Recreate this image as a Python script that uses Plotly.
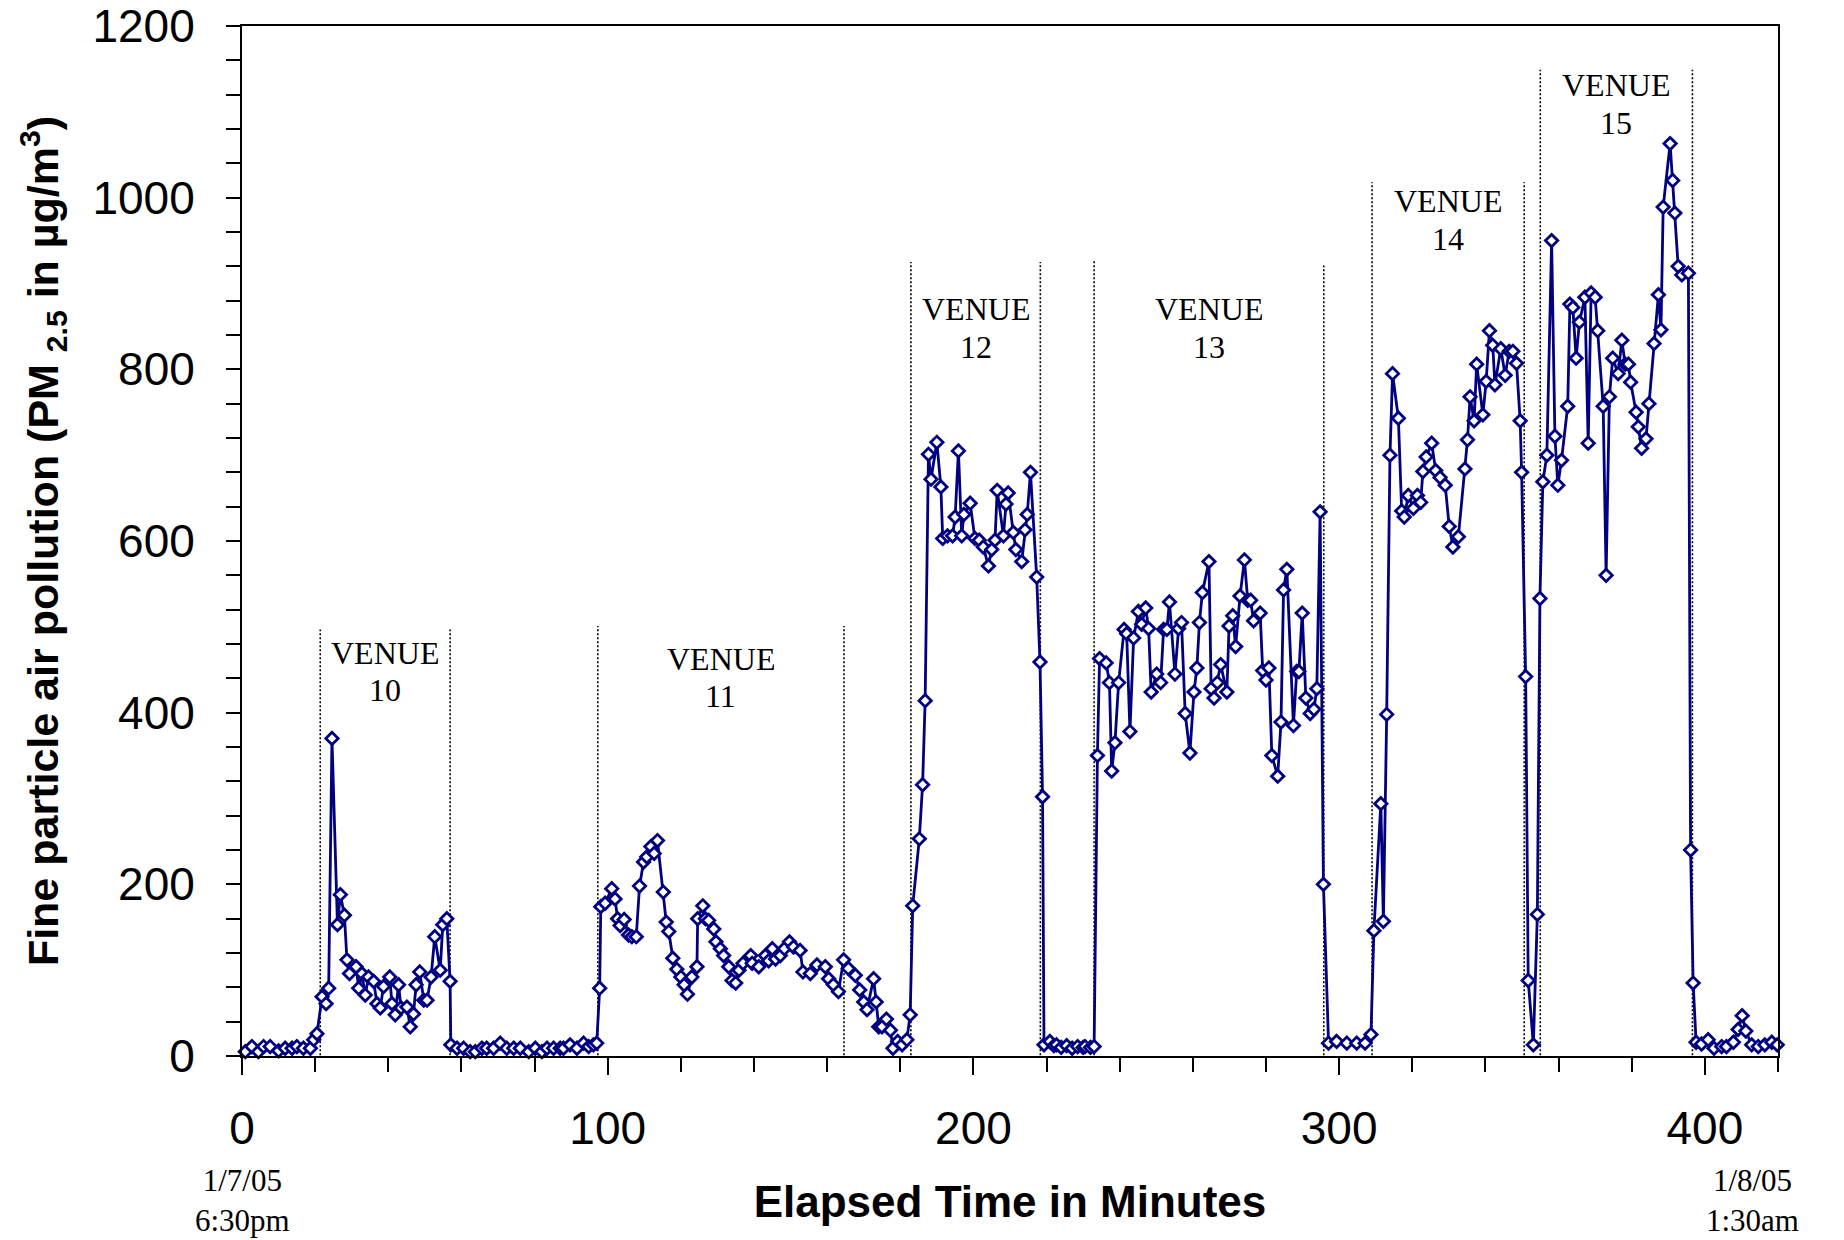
import plotly.graph_objects as go

# Elapsed time (minutes) and PM2.5 readings (ug/m3)
TIME_MIN = [
    0.9, 2.7, 4.5, 5.9, 7.7, 10.0, 11.8, 13.7, 15.0, 16.8, 18.7, 19.6, 20.5, 21.9, 23.0, 23.7,
    24.6, 26.1, 26.9, 28.0, 28.7, 29.4, 31.2, 31.9, 32.8, 33.7, 34.6, 36.0, 36.9, 37.8, 38.7,
    40.4, 41.0, 41.9, 42.8, 43.5, 45.1, 46.0, 46.9, 47.6, 48.6, 49.7, 50.6, 51.7, 52.7, 54.2,
    54.9, 56.0, 56.9, 57.1,
    58.8, 60.6, 62.4, 63.8, 65.6, 66.9, 68.8, 70.6, 72.4, 74.3, 76.1, 78.4, 80.2, 82.0, 83.4,
    85.2, 87.0, 87.9, 89.7, 91.6, 93.4, 94.8, 96.1, 97.0,
    97.8, 98.1, 99.3, 101.1, 102.0, 102.7, 103.4, 104.5, 105.7, 106.6, 107.8, 108.7, 109.8,
    110.7, 111.8, 112.7, 113.6, 115.2, 116.0, 116.7, 117.8, 118.9, 120.0, 120.9, 121.8, 123.0,
    124.4, 124.6, 126.0, 126.7, 127.6, 129.0, 129.6, 130.8, 131.7, 133.1, 134.0, 135.0, 135.9,
    137.0, 139.1, 139.5, 141.3, 143.1, 144.0, 145.0, 145.9, 147.2, 148.3, 149.7, 150.8, 152.6,
    153.4, 155.4, 157.2, 159.5, 160.4, 161.7, 163.1, 164.5, 165.8, 167.7, 168.9, 170.0, 170.9,
    172.7, 173.4, 174.1, 175.0, 176.2, 177.3, 178.0, 179.3, 180.5, 181.8, 182.7,
    183.4, 185.2, 186.1, 186.8, 187.7, 188.4, 190.0, 191.1, 191.6, 192.9, 194.3, 195.0, 195.9,
    196.8, 197.4, 199.1, 200.4, 201.6, 202.7, 204.1, 205.0, 205.9, 206.5, 208.2, 208.9, 209.5,
    210.9, 211.6, 213.2, 214.1, 214.7, 215.6, 217.3, 218.2, 218.9, 219.3,
    220.9, 222.0, 222.7, 224.0, 225.5, 227.0, 228.5, 230.0, 230.5, 232.0, 233.0,
    233.9, 234.5, 236.3, 237.2, 237.8, 238.7, 239.7, 241.2, 241.9, 242.8, 243.8, 245.1, 246.0,
    247.1, 247.9, 248.6, 250.1, 251.2, 252.0, 252.9, 253.6, 255.1, 256.1, 256.9, 257.9, 259.2,
    260.3, 261.1, 261.8, 262.6, 264.4, 265.0, 265.8, 266.7, 267.6, 269.3, 269.9, 270.9, 271.7,
    272.9, 274.1, 275.0, 275.8, 276.6, 278.4, 279.1, 280.0, 280.8, 281.6, 283.2, 284.1, 284.8,
    285.7, 287.5, 288.4, 289.0, 289.9, 290.9, 292.1, 293.1, 293.9, 294.8, 295.7,
    297.1, 299.3, 302.1, 304.8, 307.1, 308.7,
    309.5, 311.4, 312.1, 313.0, 313.9, 314.6, 316.2, 317.1, 317.8, 318.9, 320.3, 321.4, 322.3,
    322.9, 323.8, 325.3, 326.4, 327.6, 329.0, 330.1, 331.1, 332.6, 334.4, 335.1, 335.8, 336.9,
    337.6, 339.3, 340.2, 341.1, 342.0, 342.6, 344.2, 345.4, 346.5, 347.5, 348.5, 349.5, 349.9,
    351.0, 351.7, 353.1, 354.2,
    354.9, 355.7, 356.8, 358.1, 359.0, 359.8, 360.8, 362.5, 363.1, 363.9, 364.8, 365.7, 367.2,
    368.1, 368.9, 370.0, 370.7, 372.2, 373.0, 373.9, 374.8, 376.3, 377.3, 378.2, 379.1, 379.7,
    381.2, 381.8, 382.7, 383.9, 384.7, 386.1, 387.3, 388.0, 388.6, 390.5, 391.2, 391.8, 392.7,
    393.7, 395.5, 396.1, 396.8,
    397.6, 399.1, 400.9, 402.5, 404.6, 405.9, 407.8, 409.1, 410.2, 411.2, 412.8, 414.6, 416.4,
    418.3, 419.8,
]
PM25 = [
    5, 11, 5, 11, 11, 6, 9, 9, 11, 9, 9, 19, 26, 69, 61, 79,
    370, 153, 188, 164, 112, 96, 104, 79, 96, 71, 92, 87, 61, 56, 81,
    92, 61, 48, 83, 56, 57, 34, 49, 83, 98, 65, 65, 92, 139, 100,
    153, 160, 87, 13,
    9, 9, 5, 5, 9, 9, 9, 15, 9, 9, 9, 5, 9, 5, 9,
    9, 9, 9, 13, 9, 15, 11, 13, 15,
    79, 174, 178, 195, 183, 160, 152, 159, 141, 139, 139, 198, 226,
    232, 244, 236, 251, 191, 156, 145, 114, 101, 92, 83, 72, 92,
    104, 160, 175, 160, 158, 148, 133, 125, 117, 104, 88, 85, 100,
    108, 117, 108, 104, 117, 111, 125, 113, 117, 125, 133, 127, 123,
    98, 96, 106, 104, 90, 83, 75, 112, 102, 94, 77, 63, 54,
    90, 63, 34, 34, 43, 30, 9, 17, 13, 19, 48,
    175, 253, 316, 414, 701, 672, 715, 663, 603, 606, 606, 628, 705,
    606, 631, 644, 603, 601, 593, 571, 590, 601, 659, 606, 643, 656,
    610, 590, 576, 613, 631, 680, 558, 459, 302, 13,
    17, 12, 13, 10, 12, 9, 11, 10, 11, 10, 11,
    350, 463, 458, 435, 332, 365, 435, 497, 492, 378, 487, 518, 503,
    522, 498, 424, 445, 435, 497, 497, 529, 445, 498, 505, 399, 353,
    424, 452, 505, 540, 576, 428, 417, 435, 456, 424, 501, 513, 477,
    536, 578, 531, 531, 507, 516, 449, 438, 452, 350, 326, 389, 543,
    567, 385, 448, 448, 516, 417, 399, 404, 428, 634, 200,
    15, 17, 15, 15, 15, 25,
    146, 294, 157, 398, 700, 795, 743, 635, 628, 653, 638, 653, 645,
    681, 698, 714, 682, 674, 665, 617, 593, 605, 684, 718, 768, 740,
    806, 747, 786, 845, 828, 782, 824, 793, 821, 821, 807, 740, 680,
    442, 88, 13, 165,
    533, 669, 700, 950, 722, 665, 694, 757, 876, 872, 813, 855, 884,
    714, 889, 884, 845, 757, 560, 768, 813, 795, 834, 806, 806, 785,
    750, 733, 708, 719, 760, 830, 887, 846, 989, 1063, 1020, 982, 920,
    910, 912, 240, 85,
    16, 14, 19, 9, 11, 11, 16, 31, 47, 29, 13, 11, 13,
    16, 13,
]

# Venue boundaries (start, end in minutes) and the height of their dotted markers
VENUES = ["10", "11", "12", "13", "14", "15"]
VENUE_START = [21.4, 97.3, 182.9, 233.0, 309.0, 355.0]
VENUE_END = [56.9, 164.6, 218.3, 295.8, 350.6, 396.6]
LINE_TOP_START = [497, 501, 925, 928, 1018, 1149]
LINE_TOP_END = [497, 501, 925, 921, 1018, 1149]
LABEL_Y = [470, 463, 870, 870, 996, 1131]

X_TICKS = [0, 100, 200, 300, 400]
Y_TICKS = [0, 200, 400, 600, 800, 1000, 1200]

NAVY = "#000080"
SANS = "Liberation Sans, Arial, sans-serif"
SERIF = "Liberation Serif, Times New Roman, serif"

fig = go.Figure()
fig.add_trace(go.Scatter(
    x=TIME_MIN, y=PM25, mode="lines+markers",
    line=dict(color=NAVY, width=2.8),
    marker=dict(symbol="diamond", size=9.5, color="white",
                line=dict(color=NAVY, width=2.8)),
    showlegend=False, cliponaxis=False,
))

shapes = []
annotations = []
for i, name in enumerate(VENUES):
    for xv, top in ((VENUE_START[i], LINE_TOP_START[i]), (VENUE_END[i], LINE_TOP_END[i])):
        shapes.append(dict(type="line", xref="x", yref="y", x0=xv, x1=xv, y0=-13, y1=top,
                           line=dict(color="black", width=1.6, dash="2px,2px"), layer="below"))
    mid = (VENUE_START[i] + VENUE_END[i]) / 2
    annotations.append(dict(x=mid, y=LABEL_Y[i], xref="x", yref="y", text="VENUE",
                            showarrow=False, font=dict(family=SERIF, size=32, color="black"),
                            xanchor="center", yanchor="middle"))
    annotations.append(dict(x=mid, y=LABEL_Y[i] - 44, xref="x", yref="y", text=name,
                            showarrow=False, font=dict(family=SERIF, size=32, color="black"),
                            xanchor="center", yanchor="middle"))

annotations.append(dict(x=0, y=-0.14, xref="x", yref="paper", text="1/7/05<br>6:30pm",
                        showarrow=False, font=dict(family=SERIF, size=31, color="black"),
                        xanchor="center", yanchor="middle"))
annotations.append(dict(x=413, y=-0.14, xref="x", yref="paper", text="1/8/05<br>1:30am",
                        showarrow=False, font=dict(family=SERIF, size=31, color="black"),
                        xanchor="center", yanchor="middle"))

fig.update_layout(
    width=1844, height=1240,
    margin=dict(l=242, r=66, t=26, b=184, autoexpand=False),
    paper_bgcolor="white", plot_bgcolor="white",
    shapes=shapes, annotations=annotations,
    font=dict(family=SANS, color="black"),
)
fig.update_xaxes(
    range=[0, 420], tickvals=X_TICKS, ticktext=[str(v) for v in X_TICKS],
    showgrid=False, zeroline=False, automargin=False,
    showline=True, linecolor="black", linewidth=2, mirror=True,
    ticks="outside", ticklen=17, tickwidth=1.5, tickcolor="black",
    minor=dict(dtick=20, tick0=0, ticks="outside", ticklen=14, tickwidth=1.5, tickcolor="black", showgrid=False),
    tickfont=dict(family=SANS, size=46, color="black"),
    ticklabelstandoff=14,
    title=dict(text="<b>Elapsed Time in Minutes</b>", font=dict(family=SANS, size=44, color="black"), standoff=33),
)
fig.update_yaxes(
    range=[0, 1200], tickvals=Y_TICKS, ticktext=[str(v) for v in Y_TICKS],
    showgrid=False, zeroline=False, automargin=False,
    showline=True, linecolor="black", linewidth=2, mirror=True,
    ticks="outside", ticklen=14, tickwidth=1.5, tickcolor="black",
    minor=dict(dtick=40, tick0=0, ticks="outside", ticklen=14, tickwidth=1.5, tickcolor="black", showgrid=False),
    tickfont=dict(family=SANS, size=46, color="black"),
    ticklabelstandoff=22,
    title=dict(text="<b>Fine particle air pollution (PM <sub>2.5</sub> in µg/m<sup>3</sup>)</b>",
               font=dict(family=SANS, size=43, color="black"), standoff=20),
)

fig.write_html("out.html", config={"displayModeBar": False},
               post_script="document.body.style.margin='0';")
